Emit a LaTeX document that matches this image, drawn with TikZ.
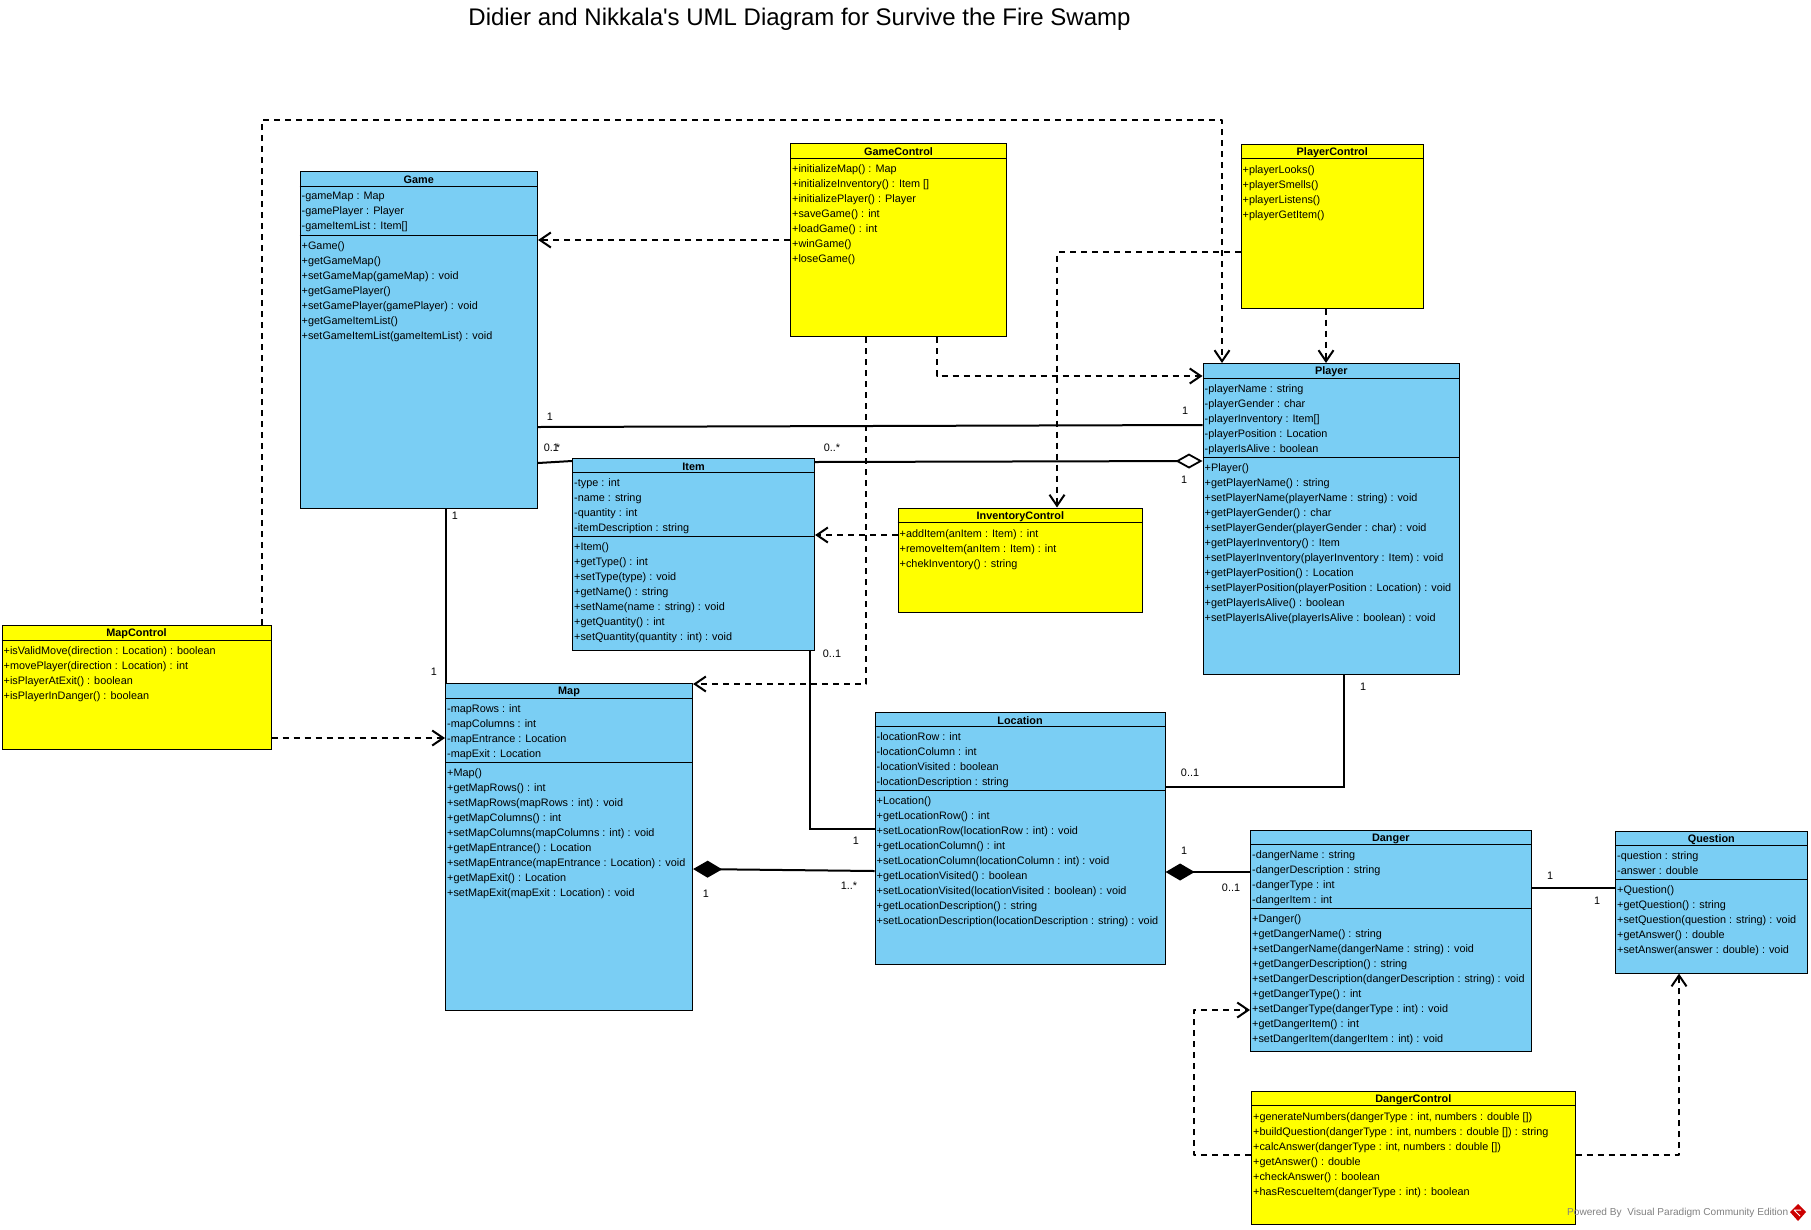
\documentclass[tikz,border=0pt]{standalone}
\usepackage{fontspec}
\setmainfont{Liberation Sans}[Ligatures=TeXOff]
\usetikzlibrary{arrows.meta}

\definecolor{classblue}{RGB}{122,206,244}
\definecolor{classyellow}{RGB}{255,255,0}

\tikzset{
  bluebox/.style={draw=black,line width=1.1pt,fill=classblue,inner sep=0pt,anchor=north west},
  yellowbox/.style={draw=black,line width=1.1pt,fill=classyellow,inner sep=0pt,anchor=north west},
  rowtext/.style={font=\fontsize{10.85}{15}\selectfont,inner sep=0pt,align=left,anchor=north west,execute at begin node=\strut},
  titletext/.style={font=\fontsize{10.85}{15}\selectfont\bfseries,inner sep=0pt},
  multtext/.style={font=\fontsize{10.85}{15}\selectfont,inner sep=0pt},
  rule/.style={line width=1pt},
  dep/.style={line width=2pt,dash pattern=on 6pt off 5pt,line join=round,-{Straight Barb[length=11pt,width=15pt,line width=2pt]}},
  assoc/.style={line width=2pt},
  aggr/.style={assoc,-{Diamond[open,fill=white,length=27pt,width=15pt,line width=1.8pt]}},
  comp/.style={assoc,{Diamond[length=29pt,width=17pt]}-}
}

% name, corner, width, height, title, separator offset, attributes, operations
\newcommand{\umlclass}[8]{
  \node [bluebox,minimum width=#3,minimum height=#4] (#1) at (#2) {};
  \node [titletext] (#1title) at ([yshift=-9]#1.north) {#5};
  \draw [rule] ([yshift=-15]#1.north west) -- ([yshift=-15]#1.north east);
  \node [rowtext] (#1attrs) at ([xshift=2,yshift=-21]#1.north west) {#7};
  \draw [rule] ([yshift=-#6]#1.north west) -- ([yshift=-#6]#1.north east);
  \node [rowtext] (#1ops) at ([xshift=2,yshift=-#6-6]#1.north west) {#8};
}
% name, corner, width, height, title, operations
\newcommand{\ctrlclass}[6]{
  \node [yellowbox,minimum width=#3,minimum height=#4] (#1) at (#2) {};
  \node [titletext] (#1title) at ([yshift=-9]#1.north) {#5};
  \draw [rule] ([yshift=-15]#1.north west) -- ([yshift=-15]#1.north east);
  \node [rowtext] (#1ops) at ([xshift=2,yshift=-21.5]#1.north west) {#6};
}

\begin{document}
\begin{tikzpicture}[x=1pt,y=-1pt]
\useasboundingbox (0,0) rectangle (1811,1229);

% Text Node
\node [font=\fontsize{24}{28}\selectfont,inner sep=0pt] (diagramTitle) at (799.5,19) {Didier and Nikkala's UML Diagram for Survive the Fire Swamp};

%Shape: Class
\umlclass{game}{299.5,171}{237.5}{337}{Game}{64}
  {-gameMap : Map\\-gamePlayer : Player\\-gameItemList : Item[]}
  {+Game()\\+getGameMap()\\+setGameMap(gameMap) : void\\+getGamePlayer()\\+setGamePlayer(gamePlayer) : void\\+getGameItemList()\\+setGameItemList(gameItemList) : void}
\umlclass{player}{1202.5,363}{256.5}{311}{Player}{94}
  {-playerName : string\\-playerGender : char\\-playerInventory : Item[]\\-playerPosition : Location\\-playerIsAlive : boolean}
  {+Player()\\+getPlayerName() : string\\+setPlayerName(playerName : string) : void\\+getPlayerGender() : char\\+setPlayerGender(playerGender : char) : void\\+getPlayerInventory() : Item\\+setPlayerInventory(playerInventory : Item) : void\\+getPlayerPosition() : Location\\+setPlayerPosition(playerPosition : Location) : void\\+getPlayerIsAlive() : boolean\\+setPlayerIsAlive(playerIsAlive : boolean) : void}
\umlclass{item}{572,457.5}{242}{192.5}{Item}{79}
  {-type : int\\-name : string\\-quantity : int\\-itemDescription : string}
  {+Item()\\+getType() : int\\+setType(type) : void\\+getName() : string\\+setName(name : string) : void\\+getQuantity() : int\\+setQuantity(quantity : int) : void}
\umlclass{map}{445,683}{247}{326.5}{Map}{79}
  {-mapRows : int\\-mapColumns : int\\-mapEntrance : Location\\-mapExit : Location}
  {+Map()\\+getMapRows() : int\\+setMapRows(mapRows : int) : void\\+getMapColumns() : int\\+setMapColumns(mapColumns : int) : void\\+getMapEntrance() : Location\\+setMapEntrance(mapEntrance : Location) : void\\+getMapExit() : Location\\+setMapExit(mapExit : Location) : void}
\umlclass{location}{874.5,711.5}{290}{252}{Location}{79}
  {-locationRow : int\\-locationColumn : int\\-locationVisited : boolean\\-locationDescription : string}
  {+Location()\\+getLocationRow() : int\\+setLocationRow(locationRow : int) : void\\+getLocationColumn() : int\\+setLocationColumn(locationColumn : int) : void\\+getLocationVisited() : boolean\\+setLocationVisited(locationVisited : boolean) : void\\+getLocationDescription() : string\\+setLocationDescription(locationDescription : string) : void}
\umlclass{danger}{1250,829.5}{280.5}{221}{Danger}{79}
  {-dangerName : string\\-dangerDescription : string\\-dangerType : int\\-dangerItem : int}
  {+Danger()\\+getDangerName() : string\\+setDangerName(dangerName : string) : void\\+getDangerDescription() : string\\+setDangerDescription(dangerDescription : string) : void\\+getDangerType() : int\\+setDangerType(dangerType : int) : void\\+getDangerItem() : int\\+setDangerItem(dangerItem : int) : void}
\umlclass{question}{1615,830.5}{191.5}{142}{Question}{49}
  {-question : string\\-answer : double}
  {+Question()\\+getQuestion() : string\\+setQuestion(question : string) : void\\+getAnswer() : double\\+setAnswer(answer : double) : void}

%Shape: Control class
\ctrlclass{gameControl}{790,143}{216}{193}{GameControl}
  {+initializeMap() : Map\\+initializeInventory() : Item []\\+initializePlayer() : Player\\+saveGame() : int\\+loadGame() : int\\+winGame()\\+loseGame()}
\ctrlclass{playerControl}{1240.5,143.5}{182.5}{164}{PlayerControl}
  {+playerLooks()\\+playerSmells()\\+playerListens()\\+playerGetItem()}
\ctrlclass{inventoryControl}{897.5,507.5}{244.5}{104.5}{InventoryControl}
  {+addItem(anItem : Item) : int\\+removeItem(anItem : Item) : int\\+chekInventory() : string}
\ctrlclass{mapControl}{1.5,625}{269}{123.5}{MapControl}
  {+isValidMove(direction : Location) : boolean\\+movePlayer(direction : Location) : int\\+isPlayerAtExit() : boolean\\+isPlayerInDanger() : boolean}
\ctrlclass{dangerControl}{1251,1090.5}{323.5}{133}{DangerControl}
  {+generateNumbers(dangerType : int, numbers : double [])\\+buildQuestion(dangerType : int, numbers : double []) : string\\+calcAnswer(dangerType : int, numbers : double [])\\+getAnswer() : double\\+checkAnswer() : boolean\\+hasRescueItem(dangerType : int) : boolean}

\coordinate (bendMapControl) at (1222,120);
\coordinate (bendDangerControl) at (1194,1010);

%Shape: Dependency
\draw [dep] ([xshift=260.5]mapControl.north west) |- (bendMapControl) -- ([xshift=19.5]player.north west);
\draw [dep] ([yshift=-113]mapControl.north east) -- ([yshift=-55]map.north west);
\draw [dep] ([yshift=-97]gameControl.north west) -- ([yshift=-69]game.north east);
\draw [dep] ([xshift=146.5]gameControl.south west) |- ([yshift=-13]player.north west);
\draw [dep] ([xshift=76]gameControl.south west) |- ([yshift=-1]map.north east);
\draw [dep] ([xshift=85.5]playerControl.south west) -- ([xshift=123.5]player.north west);
\draw [dep] ([yshift=-108.5]playerControl.north west) -| ([xshift=159.5]inventoryControl.north west);
\draw [dep] ([yshift=-27.5]inventoryControl.north west) -- ([yshift=-77.5]item.north east);
\draw [dep] ([yshift=-64.5]dangerControl.north west) -| (bendDangerControl) -- ([yshift=-180.5]danger.north west);
\draw [dep] ([yshift=-64.5]dangerControl.north east) -| ([xshift=64]question.south west);

%Shape: Association
\draw [assoc] ([yshift=-256]game.north east) -- ([yshift=-62]player.north west);
\draw [assoc] ([yshift=-292]game.north east) -- ([yshift=-3.5]item.north west);
\draw [aggr] ([yshift=-4.5]item.north east) -- ([yshift=-98]player.north west);
\draw [assoc] ([xshift=146.5]game.south west) -- ([xshift=1]map.north west);
\draw [assoc] ([xshift=237.5]item.south west) |- ([yshift=-117.5]location.north west);
\draw [comp] ([yshift=-186]map.north east) -- ([yshift=-159.5]location.north west);
\draw [assoc] ([yshift=-75]location.north east) -| ([xshift=141]player.south west);
\draw [comp] ([yshift=-160.5]location.north east) -- ([yshift=-42.5]danger.north west);
\draw [assoc] ([yshift=-58.5]danger.north east) -- ([yshift=-57.5]question.north west);

% Text Node
\node [multtext] (multA) at (550,417) {1};
\node [multtext] (multB) at (1185,411) {1};
\node [multtext] (multC) at (552,448) {0..*};
\node [multtext] (multD) at (556,448) {1};
\node [multtext] (multE) at (832,448) {0..*};
\node [multtext] (multF) at (1184,480) {1};
\node [multtext] (multG) at (455,516) {1};
\node [multtext] (multH) at (434,672) {1};
\node [multtext] (multI) at (832,654) {0..1};
\node [multtext] (multJ) at (856,841) {1};
\node [multtext] (multK) at (706,894) {1};
\node [multtext] (multL) at (849,886) {1..*};
\node [multtext] (multM) at (1190,773) {0..1};
\node [multtext] (multN) at (1363,687) {1};
\node [multtext] (multO) at (1184,851) {1};
\node [multtext] (multP) at (1231,888) {0..1};
\node [multtext] (multQ) at (1550,875.5) {1};
\node [multtext] (multR) at (1597,901) {1};

% Text Node
\node [font=\fontsize{10.1}{12}\selectfont,text=black!50,inner sep=0pt,anchor=west] (poweredBy) at (1567,1213) {Powered By \ Visual Paradigm Community Edition};
%Shape: Logo
\fill [red!80!black] (1798,1204) -- (1806,1212) -- (1798,1221) -- (1790,1212) -- cycle;
\draw [white,line width=1pt] (1794,1210) -- (1801,1210) (1794,1210) -- (1800,1216);

\end{tikzpicture}
\end{document}
